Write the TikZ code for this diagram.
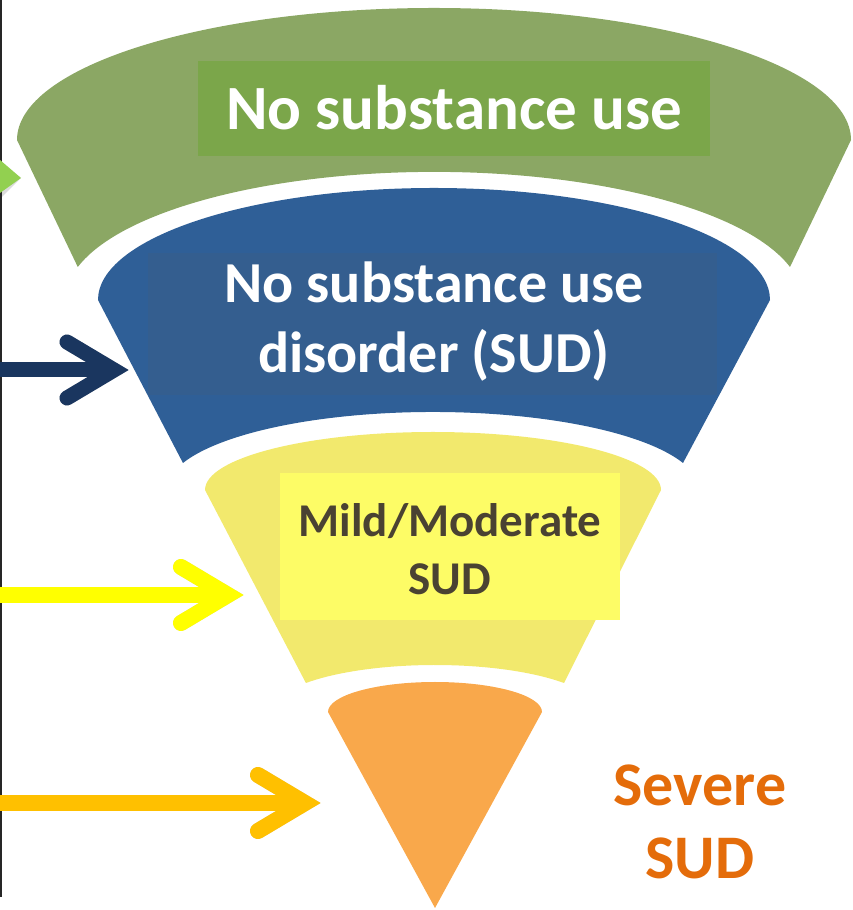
\documentclass[tikz,border=0pt]{standalone}
\usepackage{fontspec}
\setmainfont{Carlito}
\usepackage{tikz}
\usetikzlibrary{positioning}
\definecolor{use green}{HTML}{8BA764}
\definecolor{use box}{HTML}{7BA64A}
\definecolor{nosud blue}{HTML}{2F5F97}
\definecolor{nosud box}{HTML}{345E8F}
\definecolor{mild yellow}{HTML}{F2E96D}
\definecolor{mild box}{HTML}{FDFC66}
\definecolor{mild text}{HTML}{4A4232}
\definecolor{severe orange}{HTML}{F9A84B}
\definecolor{severe text}{HTML}{E46C0A}
\definecolor{navy arrow}{HTML}{1A365F}
\definecolor{yellow arrow}{HTML}{FFFF00}
\definecolor{orange arrow}{HTML}{FFC000}
\definecolor{green arrow}{HTML}{92D050}
\tikzset{layer/.style={draw=none},
    shaft/.style={line width=#1, line cap=butt},
    barb/.style={line width=#1, line cap=round, line join=miter},
    label/.style={font=\bfseries, align=center, inner sep=0pt}}

\begin{document}
\begin{tikzpicture}[x=1pt,y=1pt]
\useasboundingbox (0,0) rectangle (852,910);
\draw[line width=2, black!85] (1,910) -- (1,13);
% funnel
\fill[layer, fill=use green] (17,770) arc[start angle=180, end angle=0, x radius=417, y radius=132]
	-- (790,643) arc[start angle=14.9, end angle=165.1, x radius=368.5, y radius=128] -- cycle;
\fill[layer, fill=nosud blue] (98,610) arc[start angle=180, end angle=0, x radius=336, y radius=112]
	-- (683,447) arc[start angle=20.25, end angle=159.75, x radius=266.5, y radius=78] -- cycle;
\fill[layer, fill=mild yellow] (205,420) arc[start angle=180, end angle=0, x radius=228, y radius=58]
	-- (564,227) arc[start angle=38.1, end angle=141.9, x radius=164, y radius=47] -- cycle;
\fill[layer, fill=severe orange] (328,198) arc[start angle=180, end angle=0, x radius=107, y radius=30]
	-- (435,2) -- cycle;
% boxes behind text
\fill[use box] (198,754) rectangle (710,849);
\fill[nosud box] (148,515) rectangle (717,657);
\fill[mild box] (280,290) rectangle (620,437);
\node[label, white, font=\fontsize{63}{70}\selectfont\bfseries] (use) at (454,802) {No substance use};
\node[label, white, font=\fontsize{58}{70}\selectfont\bfseries] (nosud) at (434,588) {No substance use\\disorder (SUD)};
\node[label, mild text, font=\fontsize{47}{58}\selectfont\bfseries] (mild) at (450,361) {Mild/Moderate\\SUD};
\node[label, severe text, font=\fontsize{62}{73}\selectfont\bfseries] (severe) at (700,88) {Severe\\SUD};
% arrows
\coordinate (green tip) at (21,732);
\coordinate (navy start) at (0,540);
\coordinate (navy end) at (114,540);
\coordinate (yellow start) at (0,315);
\coordinate (yellow end) at (228,315);
\coordinate (orange start) at (0,107);
\coordinate (orange end) at (305,107);
\begin{scope}[shift={(2,-4)}, black!40, opacity=0.35]
	\fill (0,750) -- (green tip) -- (0,717) -- cycle;
	\draw[shaft=15] (navy start) -- (navy end);
	\draw[barb=15] (navy end) ++(-47,28) -- (navy end) -- ++(-47,-28);
	\draw[shaft=16] (yellow start) -- (yellow end);
	\draw[barb=16] (yellow end) ++(-47,28) -- (yellow end) -- ++(-47,-28);
	\draw[shaft=16] (orange start) -- (orange end);
	\draw[barb=16] (orange end) ++(-47,28) -- (orange end) -- ++(-47,-28);
\end{scope}
\fill[green arrow] (0,750) -- (green tip) -- (0,717) -- cycle;
\draw[shaft=15, navy arrow] (navy start) -- (navy end);
\draw[barb=15, navy arrow] (navy end) ++(-47,28) -- (navy end) -- ++(-47,-28);
\draw[shaft=16, yellow arrow] (yellow start) -- (yellow end);
\draw[barb=16, yellow arrow] (yellow end) ++(-47,28) -- (yellow end) -- ++(-47,-28);
\draw[shaft=16, orange arrow] (orange start) -- (orange end);
\draw[barb=16, orange arrow] (orange end) ++(-47,28) -- (orange end) -- ++(-47,-28);
\end{tikzpicture}
\end{document}
